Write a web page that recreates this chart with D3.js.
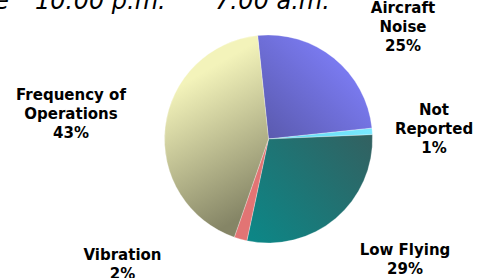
<!DOCTYPE html>
<html><head><meta charset="utf-8">
<script src="https://cdn.jsdelivr.net/npm/d3@7"></script>
<style>html,body{margin:0;padding:0;background:#fff;overflow:hidden}</style>
</head><body>
<svg id="c" width="482" height="278"></svg>
<script>
const categories = ["Aircraft Noise", "Not Reported", "Low Flying", "Vibration", "Frequency of Operations"];
const values = [25, 1, 29, 2, 43];
const labelLines = [["Aircraft", "Noise"], ["Not", "Reported"], ["Low Flying"], ["Vibration"], ["Frequency of", "Operations"]];
const titleParts = ["Complaints by Time", "10:00 p.m.", "7:00 a.m."];

const svg = d3.select("#c");
const cx = 268.5, cy = 139, r = 104;
const startDeg = -6;

const grads = [
  {a:"#5858aa", b:"#7c7cf4", x1:-0.05, y1:0.05, x2:0.75, y2:-0.75},
  {a:"#5fd8f0", b:"#7ae8ff", x1:0, y1:0, x2:1, y2:0},
  {a:"#0d8686", b:"#316262", x1:-0.15, y1:0.95, x2:0.95, y2:0.0},
  {a:"#e27474", b:"#dc6c6c", x1:0, y1:0, x2:1, y2:0},
  {a:"#f3f3ba", b:"#858566", x1:-0.7, y1:-0.6, x2:0.0, y2:0.6}
];
const defs = svg.append("defs");
grads.forEach((g,i)=>{
  const lg = defs.append("linearGradient").attr("id","g"+i)
    .attr("gradientUnits","userSpaceOnUse")
    .attr("x1", g.x1*r).attr("y1", g.y1*r)
    .attr("x2", g.x2*r).attr("y2", g.y2*r);
  lg.append("stop").attr("offset","0").attr("stop-color",g.a);
  lg.append("stop").attr("offset","1").attr("stop-color",g.b);
});

const pie = d3.pie().sort(null).value(d=>d)
  .startAngle(startDeg*Math.PI/180).endAngle((startDeg+360)*Math.PI/180);
const arcs = pie(values);
const arc = d3.arc().innerRadius(0).outerRadius(r);

const g = svg.append("g").attr("transform",`translate(${cx},${cy})`);
g.selectAll("path").data(arcs).enter().append("path")
  .attr("d", arc)
  .attr("fill",(d,i)=>`url(#g${i})`)
  .attr("stroke","#ffffff").attr("stroke-opacity",0.45).attr("stroke-width",0.6);

// labels
const labelPos = [[403, 13], [434, 115], [405, 255], [122.5, 260], [71, 100]];
const lh = 19;
const lab = svg.append("g").attr("font-family","'DejaVu Sans', Verdana, sans-serif")
  .attr("font-weight","bold").attr("font-size","15px").attr("fill","#000")
  .attr("text-anchor","middle");
categories.forEach((c,i)=>{
  const t = lab.append("text").attr("x",labelPos[i][0]).attr("y",labelPos[i][1]);
  const lines = labelLines[i].concat([values[i] + "%"]);
  lines.forEach((ln,j)=>{
    t.append("tspan").attr("x",labelPos[i][0]).attr("dy", j===0?0:lh).text(ln);
  });
});

const tt = svg.append("text").attr("y",9)
  .attr("font-family","'DejaVu Sans', Verdana, sans-serif").attr("font-style","italic")
  .attr("font-size","24px").attr("fill","#000");
tt.append("tspan").attr("x",9).attr("text-anchor","end").text(titleParts[0]);
tt.append("tspan").attr("x",35).attr("text-anchor","start").text(titleParts[1]);
tt.append("tspan").attr("x",215).attr("text-anchor","start").text(titleParts[2]);
</script>
</body></html>
